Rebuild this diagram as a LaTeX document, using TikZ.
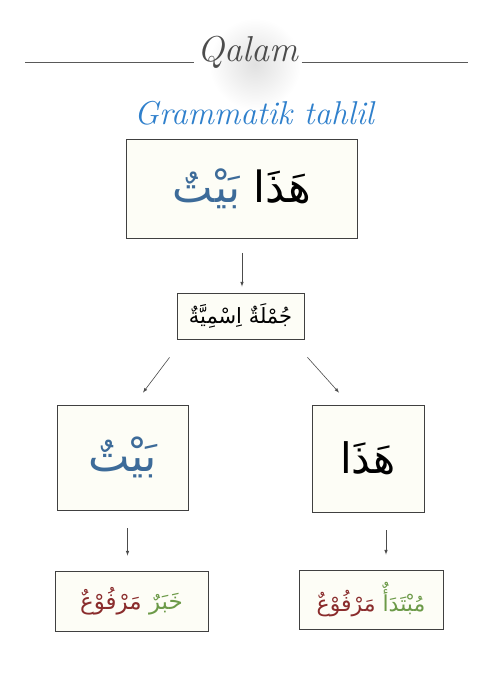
\documentclass[tikz,border=0pt]{standalone}
\usepackage{fontspec}
\newfontfamily\arabicfont[Script=Arabic]{DejaVu Sans}
\TeXXeTstate=1
\usetikzlibrary{arrows}
\tikzset{>=latex}
\definecolor{headblue}{HTML}{2F80CC}
\definecolor{wordblue}{HTML}{3D6B99}
\definecolor{wordgreen}{HTML}{6C9A48}
\definecolor{wordred}{HTML}{8A2C2C}
\definecolor{boxfill}{HTML}{FDFDF6}

\begin{document}
\begin{tikzpicture}[x=1pt, y=-1pt, >=latex,
		box/.style={draw=black!75, fill=boxfill, line width=0.9pt, inner sep=0pt},
		arr/.style={->, line width=0.6pt, draw=black!70}]
	\useasboundingbox (0,0) rectangle (496,700);
	\fill[white] (0,0) rectangle (496,700);

	% header
	\shade[inner color=black!12, outer color=white] (255,64) circle (46);
	\node[anchor=base, text=black!70, inner sep=3pt,
		font=\fontsize{36}{38}\selectfont\itshape] (qalam) at (248,62) {Qalam};
	\coordinate (lineL) at (25,62);
	\coordinate (lineR) at (468,62);
	\draw[black!65, line width=0.8pt] (lineL) -- (qalam.base west)
		(qalam.base east) -- (lineR);
	\node[text=headblue, font=\fontsize{33}{36}\selectfont\itshape]
		(title) at (254,113) {Grammatik tahlil};

	% the boxes (each word is its own right-to-left run, placed left to right)
	\node[box, minimum width=231pt, minimum height=99pt] (tarkib) at (242,189)
		{\arabicfont\fontsize{43}{46}\selectfont
		{\color{wordblue}\beginR بَيْتٌ\endR} \beginR هَذَا\endR};
	\node[box, minimum width=127pt, minimum height=46pt] (jumla) at (240.5,316)
		{\arabicfont\fontsize{21}{24}\selectfont\beginR جُمْلَةٌ اِسْمِيَّةٌ\endR};
	\node[box, minimum width=131pt, minimum height=105pt] (bayt) at (122.5,457.5)
		{\arabicfont\fontsize{44}{48}\selectfont\color{wordblue}\beginR بَيْتٌ\endR};
	\node[box, minimum width=112pt, minimum height=107pt] (hadha) at (368,458.5)
		{\arabicfont\fontsize{42}{46}\selectfont\beginR هَذَا\endR};
	\node[box, minimum width=153pt, minimum height=60pt] (khabar) at (131.5,601)
		{\arabicfont\fontsize{23}{26}\selectfont
		{\color{wordred}\beginR مَرْفُوْعٌ\endR} {\color{wordgreen}\beginR خَبَرٌ\endR}};
	\node[box, minimum width=144pt, minimum height=59pt] (mubtada) at (371,599.5)
		{\arabicfont\fontsize{22}{26}\selectfont
		{\color{wordred}\beginR مَرْفُوْعٌ\endR} {\color{wordgreen}\beginR مُبْتَدَأٌ\endR}};

	% arrows
	\draw[arr, shorten <=14pt, shorten >=6pt] (tarkib.south) -- (tarkib.south |- jumla.north);
	\draw[arr, shorten <=22.5pt, shorten >=15pt]
		([xshift=6.5pt]jumla.south west) -- ([xshift=11.5pt]bayt.north);
	\draw[arr, shorten <=24pt, shorten >=16pt]
		([xshift=-13pt]jumla.south east) -- ([xshift=-18.3pt]hadha.north);
	\draw[arr, shorten <=18pt, shorten >=15pt]
		([xshift=5pt]bayt.south) -- ([xshift=5pt]bayt.south |- khabar.north);
	\draw[arr, shorten <=18pt, shorten >=15pt]
		([xshift=18pt]hadha.south) -- ([xshift=18pt]hadha.south |- mubtada.north);
\end{tikzpicture}
\end{document}
